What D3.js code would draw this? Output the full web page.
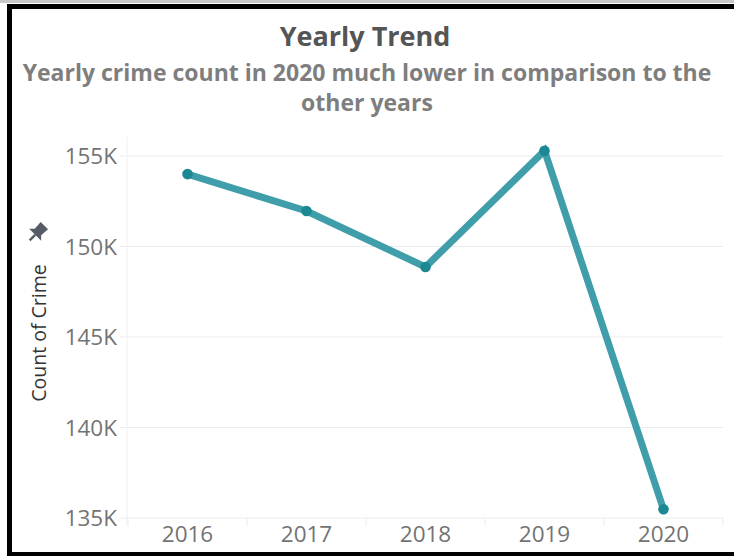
<!DOCTYPE html>
<html>
<head>
<meta charset="utf-8">
<script src="https://cdn.jsdelivr.net/npm/d3@7"></script>
<style>
  html, body { margin: 0; padding: 0; background: #fff; }
  svg { display: block; }
</style>
</head>
<body>
<svg id="chart" width="734" height="556"></svg>
<script>
const years = ["2016", "2017", "2018", "2019", "2020"];
const crimeCounts = [154000, 151960, 148870, 155290, 135480];
const yTicks = [135000, 140000, 145000, 150000, 155000];
const titleText = "Yearly Trend";
const subtitleLines = ["Yearly crime count in 2020 much lower in comparison to the", "other years"];
const yAxisTitle = "Count of Crime";

(function () {
const svg = d3.select("#chart");
const font = "'Open Sans', 'Noto Sans', sans-serif";

// frame
svg.append("rect").attr("x", 0).attr("y", 0).attr("width", 734).attr("height", 3).attr("fill", "#c8c8c8");
svg.append("rect").attr("x", 7).attr("y", 4).attr("width", 727).attr("height", 5).attr("fill", "#000");
svg.append("rect").attr("x", 7).attr("y", 4).attr("width", 5).attr("height", 552).attr("fill", "#000");
svg.append("rect").attr("x", 7).attr("y", 552).attr("width", 727).attr("height", 4).attr("fill", "#000");

// titles
svg.append("text").attr("x", 365).attr("y", 46).attr("text-anchor", "middle")
  .attr("font-family", font).attr("font-weight", 700).attr("font-size", 27)
  .attr("fill", "#555").text(titleText);
svg.selectAll("text.sub").data(subtitleLines).enter().append("text")
  .attr("class", "sub")
  .attr("x", 367).attr("y", (d, i) => 81 + i * 30).attr("text-anchor", "middle")
  .attr("font-family", font).attr("font-weight", 700).attr("font-size", 23)
  .attr("fill", "#7e7e7e").text(d => d);

const pLeft = 127, pRight = 723, pTop = 156, pBottom = 518;
const x = d3.scaleBand().domain(years).range([pLeft + 1, pRight]);
const y = d3.scaleLinear().domain([135000, 155000]).range([pBottom, pTop]);

// gridlines
svg.append("g").selectAll("line").data(yTicks).enter().append("line")
  .attr("x1", 120).attr("x2", pRight).attr("y1", d => y(d)).attr("y2", d => y(d))
  .attr("stroke", "#ececec").attr("stroke-width", 1);
// y axis line
svg.append("line").attr("x1", pLeft).attr("x2", pLeft).attr("y1", 137).attr("y2", 525)
  .attr("stroke", "#f0f0f0").attr("stroke-width", 1);
// x band separators
const seps = years.map(d => x(d)).concat([x(years[years.length - 1]) + x.bandwidth()]);
svg.append("g").selectAll("line").data(seps).enter().append("line")
  .attr("x1", d => d).attr("x2", d => d).attr("y1", pBottom).attr("y2", 526)
  .attr("stroke", "#ececec").attr("stroke-width", 1);

// y axis labels
const yAxis = d3.axisLeft(y).tickValues(yTicks).tickSize(0).tickPadding(0)
  .tickFormat(d => d3.format("d")(d / 1000) + "K");
const yg = svg.append("g").attr("transform", "translate(117,0)").call(yAxis);
yg.select(".domain").remove();
yg.selectAll("text").attr("font-family", font).attr("font-size", 22.5).attr("fill", "#737373")
  .attr("dy", "0.35em");

// x axis labels
const xAxis = d3.axisBottom(x).tickSize(0).tickPadding(0);
const xg = svg.append("g").attr("transform", "translate(0,524)").call(xAxis);
xg.select(".domain").remove();
xg.selectAll("text").attr("font-family", font).attr("font-size", 22.5).attr("fill", "#737373")
  .attr("dy", "0.8em");

// y axis title
svg.append("text").attr("transform", "translate(46,333) rotate(-90)")
  .attr("text-anchor", "middle").attr("font-family", font).attr("font-size", 19.5)
  .attr("fill", "#333").text(yAxisTitle);
// pin icon
const pin = svg.append("g").attr("transform", "translate(37,233) rotate(45) scale(1.3)").attr("fill", "#555c66");
pin.append("path").attr("d", "M-4,-8 L4,-8 L3.5,-1 L6.5,2 L-6.5,2 L-3.5,-1 Z");
pin.append("rect").attr("x", -0.9).attr("y", 2).attr("width", 1.8).attr("height", 6);

// line
const pts = years.map((d, i) => ({ year: d, value: crimeCounts[i] }));
const line = d3.line().x(d => x(d.year) + x.bandwidth() / 2).y(d => y(d.value));
svg.append("path").datum(pts).attr("d", line).attr("fill", "none")
  .attr("stroke", "#3f9ea9").attr("stroke-width", 7).attr("stroke-linejoin", "miter")
  .attr("stroke-linecap", "butt");
svg.append("g").selectAll("circle").data(pts).enter().append("circle")
  .attr("cx", d => x(d.year) + x.bandwidth() / 2).attr("cy", d => y(d.value))
  .attr("r", 5.3).attr("fill", "#1b8893");
})();
</script>
</body>
</html>
